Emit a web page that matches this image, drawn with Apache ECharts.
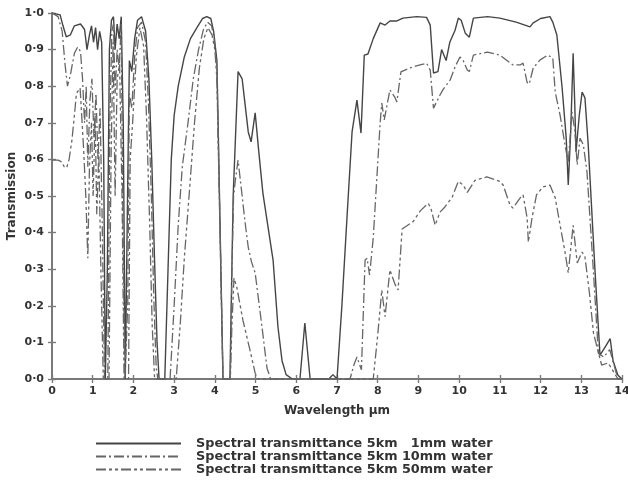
<!DOCTYPE html>
<html>
<head>
<meta charset="utf-8">
<script src="https://cdn.jsdelivr.net/npm/echarts@6/dist/echarts.min.js"></script>
<style>html,body{margin:0;padding:0;background:#fff}#c{width:628px;height:480px}</style>
</head>
<body>
<div id="c"></div>
<script>
const xTicks = [0,1,2,3,4,5,6,7,8,9,10,11,12,13,14];
const seriesNames = [
  'Spectral transmittance 5km   1mm water',
  'Spectral transmittance 5km 10mm water',
  'Spectral transmittance 5km 50mm water'
];
// [wavelength µm, transmission]
const water1mm = [[0,1.0],[0.2,0.995],[0.27,0.965],[0.35,0.935],[0.45,0.94],[0.55,0.965],[0.7,0.97],[0.8,0.955],[0.86,0.9],[0.92,0.94],[0.97,0.965],[1.02,0.92],[1.07,0.96],[1.12,0.9],[1.17,0.95],[1.22,0.92],[1.27,0.6],[1.31,0.0],[1.36,0.3],[1.41,0.9],[1.46,0.98],[1.51,0.99],[1.55,0.9],[1.6,0.97],[1.65,0.93],[1.7,0.99],[1.75,0.7],[1.8,0.0],[1.85,0.45],[1.9,0.87],[1.96,0.84],[2.03,0.93],[2.1,0.98],[2.2,0.99],[2.3,0.95],[2.38,0.82],[2.45,0.6],[2.52,0.32],[2.58,0.1],[2.63,0.0],[2.77,0.0],[2.85,0.3],[2.93,0.6],[3.0,0.72],[3.1,0.8],[3.25,0.88],[3.4,0.93],[3.56,0.96],[3.7,0.985],[3.8,0.99],[3.9,0.985],[3.97,0.95],[4.05,0.87],[4.2,0.0],[4.37,0.0],[4.45,0.5],[4.57,0.84],[4.67,0.82],[4.82,0.675],[4.89,0.648],[4.99,0.727],[5.08,0.62],[5.18,0.508],[5.3,0.42],[5.43,0.325],[5.55,0.142],[5.65,0.05],[5.75,0.012],[5.9,0.0],[6.09,0.0],[6.21,0.153],[6.34,0.0],[6.8,0.0],[6.9,0.012],[7.0,0.0],[7.12,0.2],[7.25,0.45],[7.37,0.675],[7.49,0.762],[7.59,0.672],[7.67,0.885],[7.76,0.888],[7.89,0.93],[8.06,0.973],[8.18,0.967],[8.3,0.978],[8.46,0.978],[8.62,0.986],[8.96,0.99],[9.2,0.988],[9.29,0.967],[9.37,0.836],[9.48,0.84],[9.57,0.9],[9.68,0.87],[9.77,0.92],[9.9,0.953],[9.98,0.986],[10.05,0.98],[10.15,0.945],[10.25,0.934],[10.35,0.986],[10.7,0.99],[11.0,0.986],[11.4,0.975],[11.67,0.965],[11.74,0.962],[11.82,0.973],[12.0,0.985],[12.23,0.99],[12.3,0.975],[12.4,0.94],[12.53,0.795],[12.63,0.658],[12.68,0.53],[12.74,0.675],[12.8,0.89],[12.84,0.75],[12.87,0.62],[12.95,0.72],[13.02,0.784],[13.09,0.768],[13.17,0.64],[13.34,0.29],[13.46,0.065],[13.6,0.09],[13.71,0.11],[13.78,0.05],[13.9,0.01],[14,0.0]];
const water10mm = [[0,1.0],[0.15,0.99],[0.25,0.95],[0.32,0.86],[0.38,0.8],[0.45,0.83],[0.55,0.89],[0.63,0.907],[0.7,0.895],[0.75,0.82],[0.8,0.7],[0.84,0.8],[0.88,0.58],[0.93,0.76],[0.98,0.82],[1.03,0.66],[1.08,0.78],[1.13,0.6],[1.18,0.74],[1.23,0.45],[1.29,0.0],[1.37,0.0],[1.42,0.7],[1.47,0.95],[1.51,0.97],[1.55,0.78],[1.6,0.9],[1.65,0.85],[1.7,0.97],[1.74,0.45],[1.79,0.0],[1.86,0.2],[1.9,0.78],[1.96,0.74],[2.03,0.88],[2.1,0.96],[2.2,0.975],[2.3,0.92],[2.37,0.75],[2.44,0.5],[2.5,0.22],[2.56,0.03],[2.6,0.0],[2.9,0.0],[3.0,0.2],[3.1,0.42],[3.2,0.58],[3.34,0.7],[3.47,0.82],[3.6,0.9],[3.72,0.955],[3.82,0.975],[3.92,0.965],[3.98,0.93],[4.05,0.85],[4.2,0.0],[4.38,0.0],[4.42,0.3],[4.46,0.5],[4.5,0.54],[4.57,0.598],[4.65,0.52],[4.74,0.43],[4.82,0.36],[4.9,0.32],[4.99,0.29],[5.16,0.14],[5.28,0.03],[5.37,0.0],[7.32,0.0],[7.42,0.04],[7.49,0.06],[7.6,0.025],[7.69,0.325],[7.74,0.33],[7.8,0.284],[7.89,0.385],[8.06,0.70],[8.1,0.754],[8.16,0.708],[8.3,0.79],[8.43,0.768],[8.47,0.757],[8.57,0.839],[8.79,0.85],[9.04,0.858],[9.2,0.863],[9.29,0.844],[9.37,0.74],[9.41,0.735],[9.53,0.776],[9.6,0.79],[9.78,0.817],[9.9,0.853],[10.02,0.88],[10.1,0.87],[10.2,0.844],[10.25,0.84],[10.35,0.885],[10.69,0.893],[11.0,0.885],[11.32,0.858],[11.5,0.858],[11.57,0.863],[11.67,0.81],[11.72,0.806],[11.82,0.85],[11.99,0.872],[12.18,0.885],[12.3,0.877],[12.36,0.784],[12.48,0.72],[12.6,0.64],[12.68,0.59],[12.77,0.73],[12.84,0.68],[12.9,0.585],[12.97,0.658],[13.05,0.64],[13.14,0.566],[13.3,0.29],[13.42,0.07],[13.55,0.06],[13.7,0.08],[13.9,0.0],[14,0.0]];
const water50mm = [[0,0.598],[0.15,0.598],[0.24,0.593],[0.3,0.58],[0.36,0.577],[0.42,0.6],[0.49,0.653],[0.55,0.72],[0.6,0.78],[0.69,0.795],[0.74,0.7],[0.78,0.62],[0.83,0.5],[0.88,0.33],[0.92,0.58],[0.97,0.7],[1.01,0.5],[1.06,0.72],[1.1,0.45],[1.15,0.62],[1.2,0.3],[1.26,0.0],[1.4,0.0],[1.45,0.6],[1.5,0.92],[1.55,0.5],[1.6,0.82],[1.66,0.86],[1.72,0.5],[1.77,0.0],[1.88,0.0],[1.92,0.6],[1.98,0.7],[2.07,0.88],[2.16,0.96],[2.25,0.91],[2.32,0.72],[2.4,0.42],[2.46,0.15],[2.52,0.0],[3.05,0.0],[3.15,0.15],[3.25,0.33],[3.38,0.52],[3.5,0.7],[3.62,0.85],[3.73,0.93],[3.83,0.96],[3.93,0.94],[4.0,0.9],[4.05,0.82],[4.2,0.0],[4.38,0.0],[4.42,0.15],[4.47,0.276],[4.54,0.25],[4.69,0.16],[4.86,0.08],[4.99,0.016],[5.05,0.0],[7.89,0.0],[8.0,0.12],[8.1,0.243],[8.18,0.17],[8.3,0.298],[8.42,0.26],[8.5,0.243],[8.6,0.41],[8.87,0.43],[9.05,0.46],[9.24,0.48],[9.31,0.465],[9.41,0.42],[9.53,0.456],[9.65,0.47],[9.83,0.497],[9.98,0.54],[10.1,0.53],[10.2,0.51],[10.39,0.543],[10.68,0.552],[11.0,0.54],[11.08,0.53],[11.25,0.475],[11.32,0.467],[11.5,0.495],[11.57,0.503],[11.67,0.44],[11.7,0.374],[11.79,0.44],[11.9,0.503],[12.06,0.525],[12.23,0.53],[12.36,0.495],[12.48,0.42],[12.6,0.347],[12.68,0.29],[12.8,0.42],[12.9,0.317],[13.02,0.347],[13.09,0.334],[13.2,0.235],[13.3,0.125],[13.5,0.038],[13.66,0.044],[13.9,0.0],[14,0.0]];

const axisColor = '#7a7a7a';
const font = 'DejaVu Sans';
const fmtY = v => v.toFixed(1).replace('.', '\u00b7');

function xAx(pos, inside, withLabel) {
  const a = {
    type: 'value', min: 0, max: 14, interval: 1, position: pos,
    axisLine: { show: true, lineStyle: { color: axisColor, width: 1.5 } },
    axisTick: { show: true, inside: inside, length: 4, lineStyle: { color: axisColor, width: 1.2 } },
    axisLabel: { show: withLabel, margin: 7, color: '#333', fontFamily: font, fontWeight: 'bold', fontSize: 11 },
    splitLine: { show: false }
  };
  if (withLabel) {
    a.name = 'Wavelength \u00b5m'; a.nameLocation = 'middle'; a.nameGap = 26;
    a.nameTextStyle = { color: '#333', fontFamily: font, fontWeight: 'bold', fontSize: 12 };
  }
  return a;
}
function yAx(pos, inside, withLabel) {
  const a = {
    type: 'value', min: 0, max: 1, interval: 0.1, position: pos,
    axisLine: { show: true, lineStyle: { color: axisColor, width: 1.5 } },
    axisTick: { show: true, inside: inside, length: 4, lineStyle: { color: axisColor, width: 1.2 } },
    axisLabel: { show: withLabel, margin: 8, color: '#333', fontFamily: font, fontWeight: 'bold', fontSize: 11, formatter: fmtY },
    splitLine: { show: false }
  };
  if (withLabel) {
    a.name = 'Transmission'; a.nameLocation = 'middle'; a.nameGap = 34; a.nameMoveOverlap = false;
    a.nameTextStyle = { color: '#333', fontFamily: font, fontWeight: 'bold', fontSize: 12 };
  }
  return a;
}

const chart = echarts.init(document.getElementById('c'));
chart.setOption({
  animation: false,
  backgroundColor: '#fff',
  grid: { left: 52, right: 6, top: 13, bottom: 101, containLabel: false, outerBoundsMode: 'none' },
  xAxis: [xAx('bottom', false, true), xAx('bottom', true, false), xAx('top', false, false), xAx('top', true, false)],
  yAxis: [yAx('left', false, true), yAx('left', true, false), yAx('right', false, false), yAx('right', true, false)],
  legend: {
    orient: 'vertical', left: 95, top: 437, height: 40, padding: 0,
    itemWidth: 85, itemHeight: 11, itemGap: 0,
    itemStyle: { opacity: 0, borderWidth: 0 },
    textStyle: { color: '#333', fontFamily: font, fontWeight: 'bold', fontSize: 12.8, lineHeight: 11, padding: [0, 0, 0, 10] },
    data: seriesNames
  },
  series: [
    { name: seriesNames[0], type: 'line', data: water1mm, symbol: 'none', lineStyle: { color: '#454545', width: 1.4, type: 'solid' }, itemStyle: { color: '#454545' } },
    { name: seriesNames[1], type: 'line', data: water10mm, symbol: 'none', lineStyle: { color: '#666', width: 1.3, type: [10, 3, 2, 3] }, itemStyle: { color: '#666' } },
    { name: seriesNames[2], type: 'line', data: water50mm, symbol: 'none', lineStyle: { color: '#666', width: 1.3, type: [10, 3, 3, 3, 3, 3] }, itemStyle: { color: '#666' } }
  ]
});
</script>
</body>
</html>
